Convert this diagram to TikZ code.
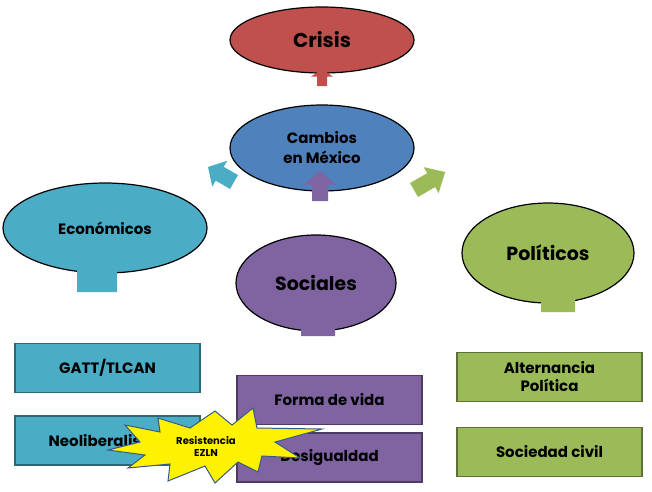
\documentclass[tikz,border=0pt]{standalone}
\usepackage{fontspec}
\setmainfont{Poppins}
\usetikzlibrary{shapes.geometric}
\definecolor{cred}{HTML}{C0504D}\definecolor{cblue}{HTML}{4F81BD}
\definecolor{cteal}{HTML}{4BACC6}\definecolor{cpurp}{HTML}{8064A2}
\definecolor{cgreen}{HTML}{9BBB59}
\newcommand\blkarrow[7]{% color, x,y, angle, length, shaft half width, head half width
\begin{scope}[shift={(#2,#3)},rotate=#4]
\fill[#1] (0,-#6)--(#5*0.55,-#6)--(#5*0.55,-#7)--(#5,0)--(#5*0.55,#7)--(#5*0.55,#6)--(0,#6)--cycle;
\end{scope}}
\begin{document}
\begin{tikzpicture}[x=1pt,y=-1pt,
 ell/.style={ellipse,draw=black,line width=1.2pt,inner sep=0pt,font=\bfseries,align=center},
 box/.style={draw=#1!60!black,line width=1.5pt,fill=#1,minimum width=185pt,minimum height=49pt,font=\bfseries\fontsize{15}{18}\selectfont,align=center,inner sep=0pt}]
\useasboundingbox (0,0) rectangle (652,491);
\node[ell,fill=cred,minimum width=184pt,minimum height=66pt,font=\bfseries\fontsize{20}{24}\selectfont] (crisis) at (322,40) {Crisis};
\node[ell,fill=cblue,minimum width=184pt,minimum height=86pt,font=\bfseries\fontsize{15}{20}\selectfont] (camb) at (322,148) {Cambios\\en México};
\node[ell,fill=cteal,minimum width=204pt,minimum height=90pt,font=\bfseries\fontsize{15}{18}\selectfont] (eco) at (105,228) {Económicos};
\node[ell,fill=cpurp,minimum width=160pt,minimum height=96pt,font=\bfseries\fontsize{19}{22}\selectfont] (soc) at (316,283) {Sociales};
\node[ell,fill=cgreen,minimum width=172pt,minimum height=100pt,font=\bfseries\fontsize{19}{22}\selectfont] (pol) at (548,253) {Políticos};
\blkarrow{cred}{322}{86}{90}{17}{5}{11}
\blkarrow{cteal}{234}{182}{150}{30}{8}{15}
\blkarrow{cpurp}{320}{201}{90}{30}{8}{16}
\blkarrow{cgreen}{414}{190}{30}{36}{8}{15}
\blkarrow{cteal}{97}{292}{90}{42}{20}{30}
\blkarrow{cpurp}{318}{336}{90}{35}{17}{28}
\blkarrow{cgreen}{558}{312}{90}{36}{17}{28}
\node[box=cteal] (gatt) at (107.5,368) {GATT/TLCAN};
\node[box=cteal] (neo) at (107.5,440.5) {Neoliberalismo};
\node[box=cpurp] (forma) at (329.5,400) {Forma de vida};
\node[box=cpurp] (desig) at (329.5,457.5) {Desigualdad};
\node[box=cgreen] (alt) at (549.5,377) {Alternancia\\Política};
\node[box=cgreen] (soci) at (549.5,452) {Sociedad civil};
\draw[fill=yellow,draw=cblue!70!black,line width=1pt] (215,411)--(232,425)--(253,408)--(257,428)--(322,429)--(275,442)--(300,458)--(262,456)--(258,472)--(238,462)--(215,483)--(205,466)--(168,481)--(170,464)--(128,468)--(145,455)--(108,450)--(140,442)--(125,425)--(160,432)--(158,418)--(190,428)--cycle;
\node[font=\bfseries\fontsize{10}{12}\selectfont,align=center] (res) at (206,446) {Resistencia\\EZLN};
\end{tikzpicture}
\end{document}
